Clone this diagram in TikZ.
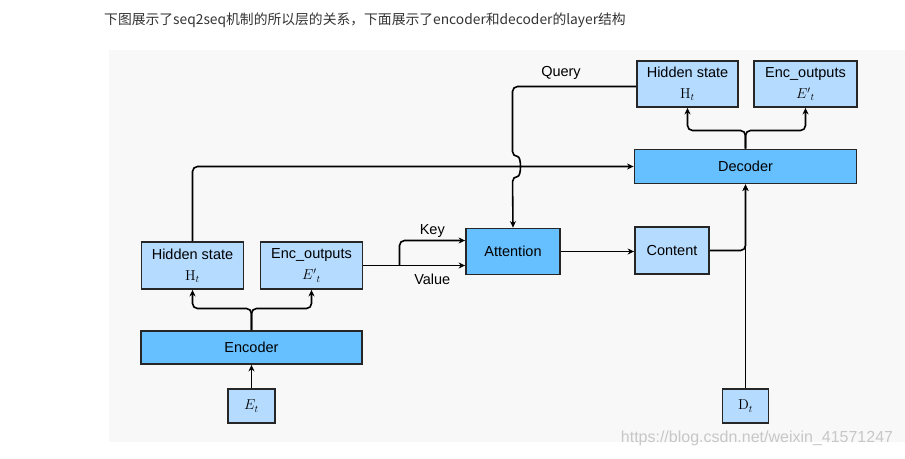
\documentclass[tikz,border=0pt]{standalone}
\usepackage[no-math]{fontspec}
\newfontfamily\boxfont{Liberation Sans}
\newfontfamily\cjkfont{Noto Sans CJK SC}
\usepackage{tikz}
\usetikzlibrary{arrows.meta}
\definecolor{deep sky}{rgb}{0.40, 0.75, 1.00}
\definecolor{pale sky}{rgb}{0.71, 0.86, 1.00}
\definecolor{panel gray}{rgb}{0.973, 0.973, 0.973}
\definecolor{title gray}{rgb}{0.2, 0.2, 0.2}
\tikzset{
	darkbox/.style={draw=black!85, fill=deep sky, line width=1.8pt, inner sep=0pt,
		font=\boxfont\fontsize{14.5}{17}\selectfont},
	lightbox/.style={draw=black!85, fill=pale sky, line width=1.8pt, inner sep=0pt,
		align=center, font=\boxfont\fontsize{14.5}{17}\selectfont},
	link/.style={line width=1.6pt, rounded corners=5pt, -{Stealth[length=6.5pt, width=6pt]}},
	tag/.style={font=\boxfont\fontsize{14.5}{17}\selectfont, inner sep=2pt}
}

\begin{document}
\begin{tikzpicture}[x=1pt, y=-1pt]
			\useasboundingbox (0, 0) rectangle (905, 458);
			% page text and panel
			\node[anchor=west, inner sep=0pt, text=title gray,
				font=\cjkfont\fontsize{13.8}{16}\selectfont] (title) at (104, 20)
				{下图展示了seq2seq机制的所以层的关系，下面展示了encoder和decoder的layer结构};
			\fill[panel gray] (109, 50) rectangle (905, 442);
			% part for the encoder
			\node[darkbox, minimum width=221pt, minimum height=33pt] (enc) at (251.5, 347.5) {Encoder};
			\node[lightbox, minimum width=47pt, minimum height=34pt] (et) at (251.5, 406) {$E_t$};
			\node[lightbox, minimum width=102pt, minimum height=47pt] (hidB) at (192.5, 265.5)
				{\raisebox{-2pt}{Hidden state}\\[6pt]$\mathrm{H}_t$};
			\node[lightbox, minimum width=102pt, minimum height=47pt] (encB) at (311.5, 265.5)
				{\raisebox{-2pt}{Enc\_outputs}\\[6pt]${E'}_t$};
			% part for attention
			\node[darkbox, minimum width=94pt, minimum height=46pt] (att) at (513, 251.5) {Attention};
			\node[lightbox, minimum width=74pt, minimum height=47pt] (cont) at (672, 250.5) {Content};
			% part for the decoder
			\node[darkbox, minimum width=222pt, minimum height=34pt] (dec) at (745.5, 166.5) {Decoder};
			\node[lightbox, minimum width=46pt, minimum height=34pt] (dt) at (745.5, 406) {$\mathrm{D}_t$};
			\node[lightbox, minimum width=101pt, minimum height=46pt] (hidT) at (687.5, 84)
				{\raisebox{-2pt}{Hidden state}\\[6pt]$\mathrm{H}_t$};
			\node[lightbox, minimum width=103pt, minimum height=46pt] (encT) at (805.5, 84)
				{\raisebox{-2pt}{Enc\_outputs}\\[6pt]${E'}_t$};
			% connectors
			\coordinate (ej) at (251.5, 308.5);
			\coordinate (kv) at (399.5, 265.5);
			\coordinate (dj) at (745.5, 130.5);
			\coordinate (qc) at (512.5, 86.5);
			\draw[link] (et) -- (enc);
			\draw[link] (enc.north) -- (ej) -| (hidB.south);
			\draw[link] (enc.north) -- (ej) -| (encB.south);
			\draw[link] (hidB.north) |- (dec.west);
			\draw[link] (encB.east) -- (kv) -- (kv -| att.west)
				node[midway, below, tag, yshift=-6pt] {Value};
			\draw[link] (kv) |- ([yshift=11pt]att.west) node[pos=0.75, above, tag] {Key};
			\draw[link] (att.east) -- (att.east -| cont.west);
			\draw[link] (cont.east) -| (dec.south);
			\draw[link] (dt) -- (dec);
			\draw[link] (dec.north) -- (dj) -| (hidT.south);
			\draw[link] (dec.north) -- (dj) -| (encT.south);
			% query line, hopping over the line into the decoder
			\draw[link] (hidT.west |- qc) -- (qc) -- (512.5, 156.5)
				.. controls (521.5, 156.5) and (521.5, 176.5) .. (512.5, 176.5) -- (att.north);
			\node[tag] (query) at (561, 73) {Query};
			% watermark
			\node[text=black!22, font=\boxfont\fontsize{16}{18}\selectfont] (mark) at (757, 438)
				{https://blog.csdn.net/weixin\_41571247};
		\end{tikzpicture}
\end{document}
